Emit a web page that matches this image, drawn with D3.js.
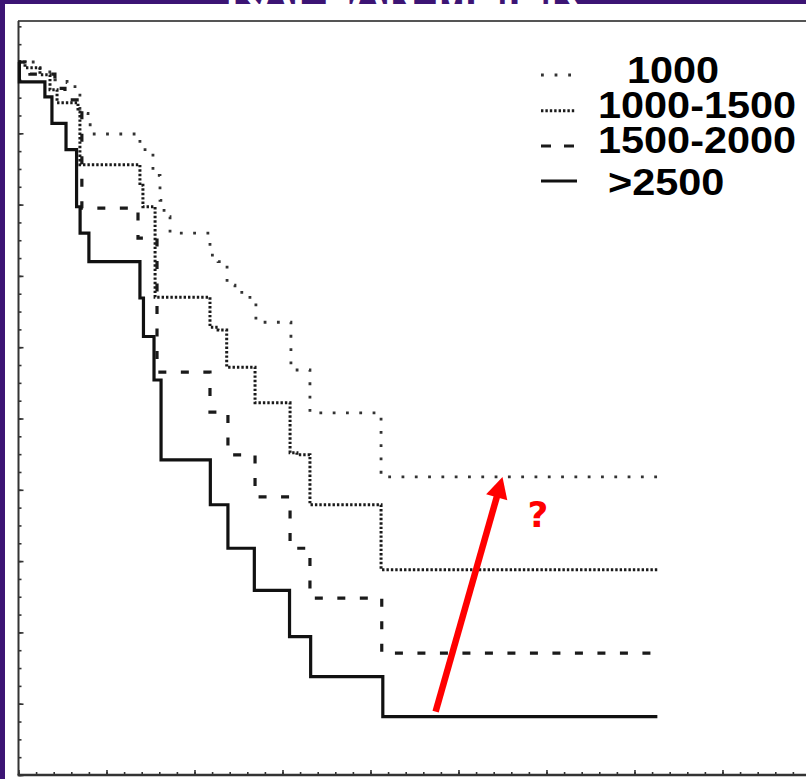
<!DOCTYPE html>
<html>
<head>
<meta charset="utf-8">
<script src="https://cdn.jsdelivr.net/npm/d3@7"></script>
<style>
  html, body { margin: 0; padding: 0; background: #3c1474; }
  svg { display: block; }
</style>
</head>
<body>
<svg id="chart" width="806" height="779"></svg>
<script>
// ---- data: Kaplan-Meier survival by group (time in months, survival fraction) ----
const groupNames = ["1000", "1000-1500", "1500-2000", ">2500"];
const followUpEnd = 36.3;

const times1000 = [0, 1.22, 2.07, 2.76, 3.21, 3.49, 3.95, 4.18, 6.90, 7.19, 7.64, 8.04, 8.27, 8.61, 10.88, 11.34, 11.85, 12.30, 13.15, 13.49, 15.48, 16.56, 20.6];
const surv1000  = [1, 0.986, 0.975, 0.971, 0.958, 0.928, 0.912, 0.899, 0.886, 0.872, 0.841, 0.806, 0.783, 0.760, 0.729, 0.720, 0.687, 0.677, 0.666, 0.635, 0.568, 0.508, 0.418];

const times1000to1500 = [0, 0.37, 1.22, 1.79, 2.19, 3.38, 3.49, 6.90, 7.07, 7.76, 10.88, 11.34, 11.83, 13.44, 15.43, 15.82, 16.56, 20.6];
const surv1000to1500  = [1, 0.992, 0.982, 0.961, 0.943, 0.930, 0.856, 0.827, 0.797, 0.670, 0.628, 0.624, 0.572, 0.522, 0.452, 0.449, 0.379, 0.288];

const times1500to2000 = [0, 0.65, 2.07, 2.64, 3.6, 6.79, 7.87, 10.88, 11.90, 13.44, 15.43, 16.56, 20.64];
const surv1500to2000  = [1, 0.983, 0.963, 0.947, 0.795, 0.753, 0.565, 0.509, 0.449, 0.390, 0.318, 0.248, 0.171];

const timesOver2500 = [0, 0.05, 1.5, 1.9, 2.7, 3.3, 3.5, 4.0, 6.9, 7.1, 7.7, 8.1, 10.9, 11.9, 13.4, 15.4, 16.6, 20.7];
const survOver2500  = [1, 0.972, 0.951, 0.914, 0.877, 0.797, 0.760, 0.720, 0.669, 0.615, 0.554, 0.442, 0.379, 0.318, 0.259, 0.194, 0.138, 0.082];

// annotation arrow: from the >2500 plateau up to the 1000 plateau
const arrowFrom = [23.7, 0.089];
const arrowTo   = [27.5, 0.418];

const xMinorTicks = d3.range(0, 45, 1);
const xMajorTicks = d3.range(0, 45, 5);
const yMinorTicks = d3.range(0, 1.051, 0.025);
const yMajorTicks = d3.range(0, 1.051, 0.1);

// ---- layout ----
const W = 806, H = 779;
const svg = d3.select("#chart");

svg.append("rect").attr("width", W).attr("height", H).attr("fill", "#3c1474");

// heading sits mostly above the frame
svg.append("text")
  .attr("x", 402).attr("y", 3.5)
  .attr("text-anchor", "middle")
  .attr("font-family", "Liberation Sans, Arial, sans-serif")
  .attr("font-weight", "bold")
  .attr("font-size", 46)
  .attr("fill", "#ffffff")
  .text("KAPLAN-MEIER");

// white panel
svg.append("rect").attr("x", 5).attr("y", 4).attr("width", W - 5).attr("height", H - 4).attr("fill", "#ffffff");

const x = d3.scaleLinear().domain([0, 44.7]).range([18.5, 805.2]);
const y = d3.scaleLinear().domain([0, 1]).range([775, 62]);

const axisColor = "#333";

// top frame line
svg.append("line")
  .attr("x1", 18).attr("x2", W).attr("y1", 21).attr("y2", 21)
  .attr("stroke", "#555").attr("stroke-width", 2);

// y axis (ticks point inward)
function yAxis(ticks, size) {
  const g = svg.append("g").attr("transform", `translate(${x(0)},0)`)
    .call(d3.axisRight(y).tickValues(ticks).tickSize(size).tickFormat(""));
  g.select(".domain").remove();
  g.selectAll(".tick line").attr("stroke", axisColor).attr("stroke-width", 1.6);
  return g;
}
yAxis(yMinorTicks, 3);
yAxis(yMajorTicks, 5);
svg.append("line")
  .attr("x1", x(0)).attr("x2", x(0)).attr("y1", 21).attr("y2", y(0))
  .attr("stroke", axisColor).attr("stroke-width", 2);

// x axis (ticks point up)
function xAxis(ticks, size) {
  const g = svg.append("g").attr("transform", `translate(0,${y(0)})`)
    .call(d3.axisTop(x).tickValues(ticks).tickSize(size).tickFormat(""));
  g.select(".domain").remove();
  g.selectAll(".tick line").attr("stroke", axisColor).attr("stroke-width", 1.6);
  return g;
}
xAxis(xMinorTicks, 3);
xAxis(xMajorTicks, 5);
svg.append("line")
  .attr("x1", x(0) - 1).attr("x2", W).attr("y1", y(0)).attr("y2", y(0))
  .attr("stroke", axisColor).attr("stroke-width", 2.5);

// ---- survival curves ----
const styles = [
  { width: 2.8, dash: "2.8,10.5", color: "#333" },
  { width: 3,   dash: "2.4,2",    color: "#1a1a1a" },
  { width: 3.2, dash: "8,14.5",   color: "#1a1a1a" },
  { width: 3.2, dash: null,       color: "#111" }
];
const series = [
  [times1000, surv1000],
  [times1000to1500, surv1000to1500],
  [times1500to2000, surv1500to2000],
  [timesOver2500, survOver2500]
];

const stepLine = d3.line()
  .x(d => x(d[0])).y(d => y(d[1]))
  .curve(d3.curveStepAfter);

series.forEach(([ts, ss], i) => {
  const pts = ts.map((t, k) => [t, ss[k]]);
  pts.push([followUpEnd, ss[ss.length - 1]]);
  svg.append("path")
    .attr("d", stepLine(pts))
    .attr("fill", "none")
    .attr("stroke", styles[i].color)
    .attr("stroke-width", styles[i].width)
    .attr("stroke-dasharray", styles[i].dash)
    .attr("stroke-linecap", "butt");
});

// ---- legend ----
const legendRows = [
  { sx1: 541, sx2: 573, sy: 75,  tx: 627, ty: 83.3 },
  { sx1: 541, sx2: 576, sy: 110.7, tx: 598, ty: 118.3 },
  { sx1: 541, sx2: 576, sy: 146, tx: 598, ty: 153.3 },
  { sx1: 541, sx2: 577, sy: 181, tx: 608, ty: 195 }
];
const legendDash = ["2.8,10.8", "2.4,2", "10,13", null];
groupNames.forEach((name, i) => {
  const r = legendRows[i];
  svg.append("line")
    .attr("x1", r.sx1).attr("x2", r.sx2).attr("y1", r.sy).attr("y2", r.sy)
    .attr("stroke", styles[i].color)
    .attr("stroke-width", styles[i].width)
    .attr("stroke-dasharray", legendDash[i]);
  svg.append("text")
    .attr("transform", `translate(${r.tx},${r.ty}) scale(1.12,1)`)
    .attr("font-family", "Liberation Sans, Arial, sans-serif")
    .attr("font-weight", "bold")
    .attr("font-size", 37)
    .attr("fill", "#000")
    .text(name);
});

// ---- annotation arrow ----
const ax1 = x(arrowFrom[0]), ay1 = y(arrowFrom[1]);
const ax2 = x(arrowTo[0]),   ay2 = y(arrowTo[1]);
const ang = Math.atan2(ay2 - ay1, ax2 - ax1);
const headLen = 21, headHalf = 11;
const bx = ax2 - headLen * Math.cos(ang), by = ay2 - headLen * Math.sin(ang);
svg.append("line")
  .attr("x1", ax1).attr("y1", ay1).attr("x2", bx + 2 * Math.cos(ang)).attr("y2", by + 2 * Math.sin(ang))
  .attr("stroke", "#ff0000").attr("stroke-width", 6.5);
svg.append("path")
  .attr("d", `M${ax2},${ay2} L${bx - headHalf * Math.sin(ang)},${by + headHalf * Math.cos(ang)} L${bx + headHalf * Math.sin(ang)},${by - headHalf * Math.cos(ang)} Z`)
  .attr("fill", "#ff0000");
svg.append("text")
  .attr("x", ax2 + 25).attr("y", ay2 + 50)
  .attr("font-family", "DejaVu Sans, sans-serif")
  .attr("font-weight", "bold")
  .attr("font-size", 36)
  .attr("fill", "#ff0000")
  .text("?");
</script>
</body>
</html>
